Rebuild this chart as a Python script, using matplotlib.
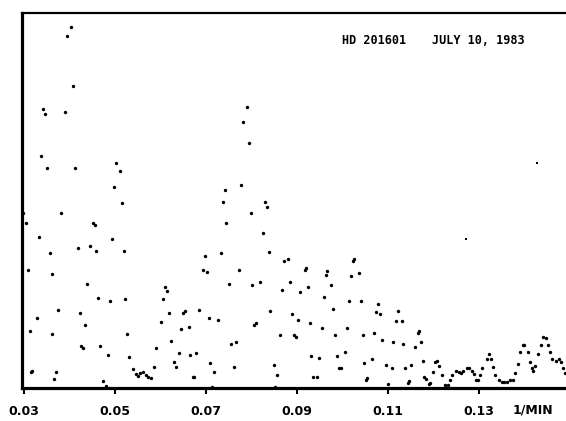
import matplotlib
matplotlib.use("Agg")
import matplotlib.pyplot as plt

# Frequency (1/min) and power (arbitrary units)
freq = [
    0.0403, 0.0395, 0.0407, 0.0342, 0.0347, 0.0389, 0.0337, 0.0351, 0.0411, 0.0503,
    0.0512, 0.0498, 0.0516,
    0.0381, 0.0297, 0.0304, 0.0451, 0.0455, 0.0334, 0.0494, 0.0418, 0.0446, 0.0459,
    0.0519, 0.0357, 0.0308, 0.0362, 0.0438, 0.0463, 0.0490, 0.0523, 0.0609, 0.0614,
    0.0605, 0.0375, 0.0329, 0.0422, 0.0618, 0.0649, 0.0654, 0.0684, 0.0313, 0.0362,
    0.0433, 0.0600, 0.0662, 0.0644, 0.0527, 0.0425, 0.0429, 0.0467, 0.0622, 0.0591,
    0.0484, 0.0640, 0.0665, 0.0679, 0.0531, 0.0630, 0.0634, 0.0586, 0.0316, 0.0318,
    0.0370, 0.0366, 0.0474, 0.0480, 0.0540, 0.0546, 0.0550, 0.0555, 0.0561, 0.0567,
    0.0573, 0.0578, 0.0671, 0.0674,
    0.0791, 0.0781, 0.0795, 0.0776, 0.0741, 0.0737, 0.0829, 0.0834,
    0.0798, 0.0745, 0.0825, 0.0838, 0.0697, 0.0732, 0.0693, 0.0702, 0.0772, 0.0750,
    0.0801, 0.0819, 0.0872, 0.0881, 0.0918, 0.0920, 0.0885, 0.0868, 0.0906, 0.0924,
    0.0967, 0.0963, 0.0975, 0.1024, 0.1026, 0.1019, 0.1036, 0.0959, 0.0706, 0.0727,
    0.0841, 0.0890, 0.0902, 0.0928, 0.0954, 0.0980, 0.1014, 0.1040, 0.1078, 0.1074,
    0.1082, 0.0809, 0.0806, 0.0862, 0.0893, 0.0897, 0.0984, 0.1010, 0.1044, 0.1070,
    0.1087, 0.0756, 0.0765, 0.0931, 0.0949, 0.0988, 0.1005, 0.1064, 0.0709, 0.0718,
    0.0761, 0.0849, 0.0857, 0.0992, 0.0996, 0.1047, 0.1053, 0.1051, 0.1095, 0.0936,
    0.0945, 0.0713, 0.0852, 0.1101,
    0.1121, 0.1117, 0.1131, 0.1112, 0.1134, 0.1168, 0.1165, 0.1173, 0.1160, 0.1108,
    0.1177, 0.1151, 0.1138, 0.1146, 0.1143, 0.1180, 0.1184, 0.1191, 0.1193, 0.1198,
    0.1204, 0.1208, 0.1211, 0.1219, 0.1226, 0.1231, 0.1236, 0.1241, 0.1249, 0.1255,
    0.1260, 0.1265, 0.1273, 0.1279, 0.1285, 0.1289, 0.1293, 0.1298, 0.1302, 0.1307,
    0.1317, 0.1323, 0.1327, 0.1331, 0.1336, 0.1345, 0.1351, 0.1356, 0.1362, 0.1368,
    0.1374, 0.1380, 0.1385, 0.1390, 0.1396, 0.1399, 0.1407, 0.1412, 0.1416, 0.1419,
    0.1424, 0.1430, 0.1437, 0.1441, 0.1447, 0.1451, 0.1456, 0.1460, 0.1469, 0.1476,
    0.1481, 0.1485, 0.1489,
]
power = [
    361, 352, 302, 279, 274, 276, 232, 220, 220, 225,
    217, 201, 185,
    175, 175, 165, 165, 163, 151, 149, 140, 142, 137,
    137, 135, 118, 114, 104, 90, 87, 89, 101, 97,
    89, 78, 70, 75, 75, 75, 77, 78, 57, 54,
    63, 66, 61, 59, 54, 42, 40, 42, 47, 40,
    33, 35, 33, 35, 31, 26, 21, 21, 16, 17,
    16, 9, 7, 2, 19, 14, 12, 15, 16, 13,
    11, 10, 11, 11,
    281, 266, 245, 203, 198, 186, 186, 181,
    175, 165, 155, 136, 132, 135, 118, 116, 118, 104,
    103, 106, 127, 129, 118, 120, 106, 98, 96, 101,
    117, 113, 103, 127, 129, 112, 115, 91, 70, 68,
    77, 74, 68, 65, 60, 79, 87, 87, 84, 76,
    74, 65, 63, 53, 53, 51, 53, 60, 53, 55,
    48, 44, 46, 32, 30, 32, 36, 29, 25, 16,
    21, 23, 13, 20, 20, 25, 10, 8, 23, 11,
    11, 1, 1, 4,
    77, 67, 67, 46, 44, 57, 55, 46, 41, 20,
    27, 23, 20, 7, 5, 11, 9, 4, 5, 16,
    26, 27, 22, 13, 3, 3, 8, 13, 17, 16,
    15, 17, 20, 20, 17, 14, 8, 8, 13, 20,
    29, 34, 29, 21, 13, 8, 6, 6, 6, 8,
    8, 15, 24, 36, 43, 43, 36, 26, 20, 17,
    22, 34, 43, 51, 50, 43, 36, 29, 27, 29,
    26, 20, 15,
]
# faint specks in the scan
speck_freq = [0.1427, 0.1271]
speck_power = [225, 149]

tick_vals = [0.03, 0.05, 0.07, 0.09, 0.11, 0.13]
tick_labels = ["0.03", "0.05", "0.07", "0.09", "0.11", "0.13"]
title_star = "HD 201601"
title_date = "JULY 10, 1983"
unit_label = "1/MIN"

fig = plt.figure(figsize=(5.66, 4.21), dpi=100)
ax = fig.add_axes([0.0389, 0.0784, 0.9611, 0.8907])

ax.scatter(freq, power, s=6, c="black", marker="o", linewidths=0, clip_on=False, zorder=3)
ax.scatter(speck_freq, speck_power, s=1.5, c="black", marker="s", linewidths=0, zorder=3)

ax.set_xlim(0.02956, 0.14912)
ax.set_ylim(0, 375)

ax.spines["right"].set_visible(False)
ax.spines["left"].set_linewidth(2.3)
ax.spines["bottom"].set_linewidth(2.3)
ax.spines["top"].set_linewidth(1.6)

ax.set_xticks(tick_vals)
ax.set_xticklabels(tick_labels, fontsize=9, fontweight="bold", family="DejaVu Sans")
ax.tick_params(axis="x", direction="out", length=4, width=1.5, pad=8)
ax.set_yticks([])

ax.text(0.588, 0.928, title_star, transform=ax.transAxes, fontsize=8.5,
        fontweight="bold", family="DejaVu Sans Mono", va="center", ha="left")
ax.text(0.754, 0.928, title_date, transform=ax.transAxes, fontsize=8.5,
        fontweight="bold", family="DejaVu Sans Mono", va="center", ha="left")
ax.text(0.9026, -0.0587, unit_label, transform=ax.transAxes, fontsize=9,
        fontweight="bold", family="DejaVu Sans", va="center", ha="left")

fig.savefig("out.png", dpi=100)
